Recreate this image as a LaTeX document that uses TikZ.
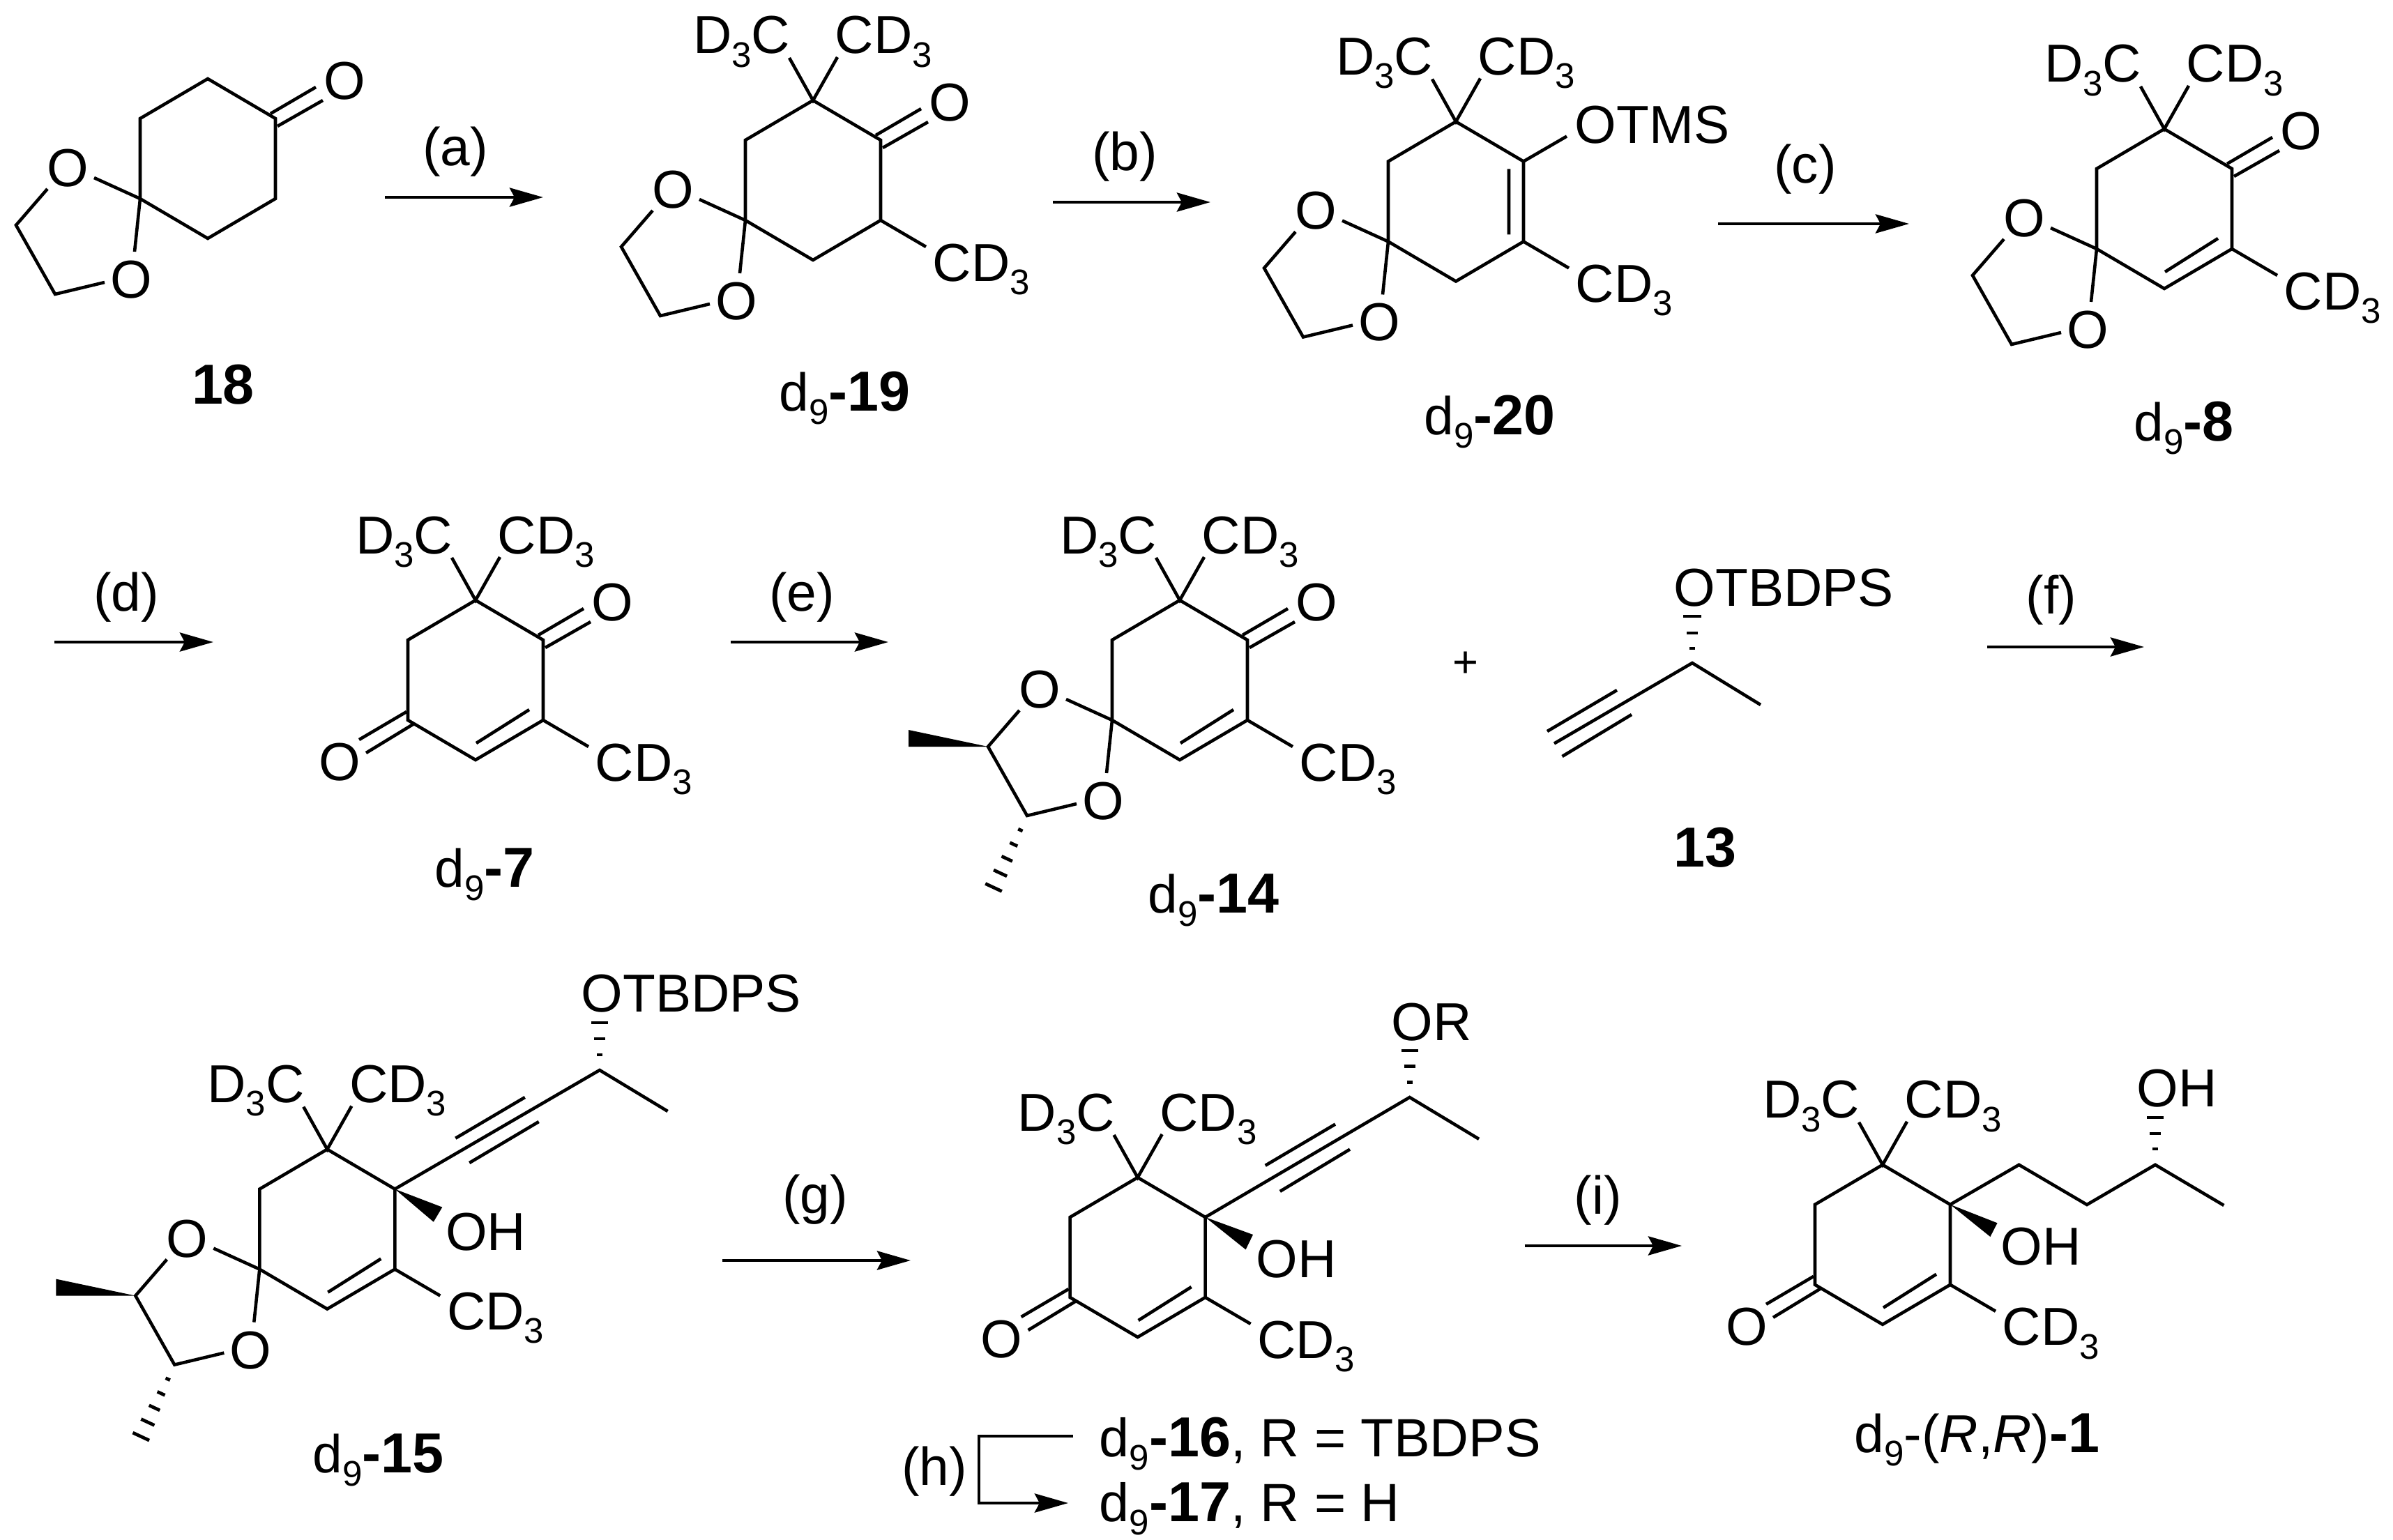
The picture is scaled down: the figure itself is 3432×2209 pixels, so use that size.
\documentclass[tikz,border=0pt]{standalone}
\usepackage{fontspec}
\setmainfont{Liberation Sans}
\usetikzlibrary{calc,arrows.meta}
\newcommand\chemf{\fontsize{21.8}{24}\selectfont}
\newcommand\sbs[1]{\raisebox{-5.5pt}{\fontsize{14.5}{14.5}\selectfont #1}}
\newcommand\bnum[1]{{\fontsize{23}{24}\selectfont\bfseries #1}}
\newcommand\Rel[3]{\coordinate (#1) at ($(#2-T)+#3$);}
\newcommand\Ring[3]{%
  \coordinate (#1-T) at (#2,#3);
  \Rel{#1-UL}{#1}{(-97,57)}\Rel{#1-LL}{#1}{(-97,172)}\Rel{#1-B}{#1}{(0,229)}%
  \Rel{#1-LR}{#1}{(97,172)}\Rel{#1-UR}{#1}{(97,57)}%
  \draw[bond] (#1-T)--(#1-UR)--(#1-LR)--(#1-B)--(#1-LL)--(#1-UL)--cycle;}
\newcommand\Gem[1]{%
  \Rel{#1-ga}{#1}{(-34,-61)}\Rel{#1-gb}{#1}{(35,-62)}%
  \Rel{#1-gl}{#1}{(-32,-67)}\Rel{#1-gr}{#1}{(31,-67)}%
  \draw[bond] (#1-ga)--(#1-T)--(#1-gb);
  \node[lab,anchor=base east] (#1-dc) at (#1-gl) {D\sbs{3}C};
  \node[lab,anchor=base west] (#1-cd) at (#1-gr) {CD\sbs{3}};}
\newcommand\MeCD[1]{%
  \Rel{#1-me}{#1}{(162,210)}\Rel{#1-mt}{#1}{(171,259)}%
  \draw[bond] (#1-LR)--(#1-me);
  \node[lab,anchor=base west] (#1-mc) at (#1-mt) {CD\sbs{3}};}
\newcommand\InnerCC[1]{%
  \Rel{#1-ia}{#1}{(77,157)}\Rel{#1-ib}{#1}{(1,205)}%
  \draw[bond] (#1-ia)--(#1-ib);}
\newcommand\KetoUR[1]{%
  \Rel{#1-oc}{#1}{(196,3)}\Rel{#1-k1}{#1}{(90,50)}\Rel{#1-k2}{#1}{(155,12)}%
  \Rel{#1-k3}{#1}{(100,68)}\Rel{#1-k4}{#1}{(165,31)}%
  \node[lab] (#1-O) at (#1-oc) {O};
  \draw[bond] (#1-k1)--(#1-k2) (#1-k3)--(#1-k4);}
\newcommand\KetoLL[1]{%
  \Rel{#1-pc}{#1}{(-195,232)}\Rel{#1-l1}{#1}{(-99,160)}\Rel{#1-l2}{#1}{(-167,200)}%
  \Rel{#1-l3}{#1}{(-88,177)}\Rel{#1-l4}{#1}{(-157,219)}%
  \node[lab] (#1-OL) at (#1-pc) {O};
  \draw[bond] (#1-l1)--(#1-l2) (#1-l3)--(#1-l4);}
\newcommand\Ketal[1]{%
  \Rel{#1-o1}{#1}{(-201,128)}\Rel{#1-o2}{#1}{(-110,288)}%
  \Rel{#1-q1}{#1}{(-163,142)}\Rel{#1-q2}{#1}{(-105,248)}%
  \Rel{#1-r1}{#1}{(-230,158)}\Rel{#1-Ca}{#1}{(-275,210)}%
  \Rel{#1-Cb}{#1}{(-219,309)}\Rel{#1-r2}{#1}{(-148,292)}%
  \node[lab] (#1-O1) at (#1-o1) {O};
  \node[lab] (#1-O2) at (#1-o2) {O};
  \draw[bond] (#1-LL)--(#1-q1) (#1-LL)--(#1-q2);
  \draw[bond] (#1-r1)--(#1-Ca)--(#1-Cb)--(#1-r2);}
\newcommand\Chiral[1]{%
  \Rel{#1-w1}{#1}{(-389,186)}\Rel{#1-w2}{#1}{(-389,210)}\Rel{#1-hh}{#1}{(-267,412)}%
  \fill (#1-Ca)--(#1-w1)--(#1-w2)--cycle;
  \foreach \t/\w in {.2/.035,.4/.06,.6/.085,.8/.105,1/.13}
    \draw[hash] ($(#1-Cb)!\t!(#1-hh)!\w cm!90:(#1-Cb)$)--($(#1-Cb)!\t!(#1-hh)!-\w cm!90:(#1-Cb)$);}
% stereo hash pointing straight up: x, then (half width, y) three times
\newcommand\HashUp[7]{%
  \draw[hash] (#1-#2,#3)--(#1+#2,#3);
  \draw[hash] (#1-#4,#5)--(#1+#4,#5);
  \draw[hash] (#1-#6,#7)--(#1+#6,#7);}
\newcommand\Rxn[7]{%
  \coordinate (#1-s) at (#2,#4);\coordinate (#1-e) at (#3,#4);
  \draw[rxn] (#1-s)--(#1-e);
  \node[lab,anchor=base] (#1-l) at (#6,#7) {#5};}
\tikzset{
  bond/.style={line width=1.3pt,line join=miter,line cap=butt},
  hash/.style={line width=1.35pt},
  rxn/.style={line width=1.4pt,-{Stealth[length=.48cm,width=.27cm,inset=.07cm]}},
  lab/.style={inner sep=0pt,font=\chemf},
}
\begin{document}
\begin{tikzpicture}[x=.01cm,y=-.01cm]
\useasboundingbox (0,0) rectangle (3432,2209);
\fill[white] (0,0) rectangle (3432,2209);
% 18
\Ring{mA}{298}{113}\KetoUR{mA}\Ketal{mA}
\node[lab,anchor=base] (mA-n) at (320,579) {\bnum{18}};
% 19
\Ring{mB}{1166}{144}\KetoUR{mB}\Ketal{mB}\Gem{mB}\MeCD{mB}
\node[lab,anchor=base west] (mB-n) at (1117,589) {d\sbs{9}\bnum{-19}};
% 20
\Ring{mC}{2088}{174.5}\Ketal{mC}\Gem{mC}\MeCD{mC}
\Rel{mC-i1}{mC}{(76,68)}\Rel{mC-i2}{mC}{(76,162)}\Rel{mC-ot}{mC}{(159,21)}\Rel{mC-tt}{mC}{(170,31.5)}
\draw[bond] (mC-i1)--(mC-i2) (mC-UR)--(mC-ot);
\node[lab,anchor=base west] (mC-tms) at (mC-tt) {OTMS};
\node[lab,anchor=base west] (mC-n) at (2042,623) {d\sbs{9}\bnum{-20}};
% 8
\Ring{mD}{3104}{185}\KetoUR{mD}\Ketal{mD}\Gem{mD}\MeCD{mD}\InnerCC{mD}
\node[lab,anchor=base west] (mD-n) at (3060,632) {d\sbs{9}\bnum{-8}};
% 7
\Ring{mE}{682}{861}\KetoUR{mE}\KetoLL{mE}\Gem{mE}\MeCD{mE}\InnerCC{mE}
\node[lab,anchor=base west] (mE-n) at (623,1272.5) {d\sbs{9}\bnum{-7}};
% 14
\Ring{mF}{1692}{861}\KetoUR{mF}\Ketal{mF}\Chiral{mF}\Gem{mF}\MeCD{mF}\InnerCC{mF}
\node[lab,anchor=base west] (mF-n) at (1646,1309) {d\sbs{9}\bnum{-14}};
% plus
\node[lab,font=\fontsize{18}{20}\selectfont] (plus) at (2101.7,953) {+};
% 13
\coordinate (mG-c) at (2427,951);\coordinate (mG-m) at (2525,1011);\coordinate (mG-y) at (2229,1066.5);
\coordinate (mG-a1) at (2319,990);\coordinate (mG-a2) at (2219,1049);
\coordinate (mG-a3) at (2340,1025);\coordinate (mG-a4) at (2240.5,1085);
\draw[bond] (mG-y)--(mG-c)--(mG-m);
\draw[bond] (mG-a1)--(mG-a2) (mG-a3)--(mG-a4);
\HashUp{2427}{4}{930}{8}{908}{13}{884}
\node[lab,anchor=base west] (mG-o) at (2400,869) {OTBDPS};
\node[lab,anchor=base] (mG-n) at (2445,1243) {\bnum{13}};
% 15
\Ring{mH}{469.3}{1648.6}\Ketal{mH}\Chiral{mH}\Gem{mH}\MeCD{mH}\InnerCC{mH}
\coordinate (mH-c) at (860,1535);\coordinate (mH-m) at (957.6,1594);
\coordinate (mH-a1) at (653.3,1632.7);\coordinate (mH-a2) at (752.8,1574);
\coordinate (mH-a3) at (673.2,1668);\coordinate (mH-a4) at (772.7,1609);
\coordinate (mH-w1) at (634.3,1731.6);\coordinate (mH-w2) at (621.8,1752.7);
\draw[bond] (mH-UR)--(mH-c)--(mH-m);
\draw[bond] (mH-a1)--(mH-a2) (mH-a3)--(mH-a4);
\fill (mH-UR)--(mH-w1)--(mH-w2)--cycle;
\HashUp{860}{4}{1513}{8}{1490}{12}{1467}
\node[lab,anchor=base west] (mH-o) at (833,1451.4) {OTBDPS};
\node[lab,anchor=base west] (mH-oh) at (638.4,1793.4) {OH};
\node[lab,anchor=base west] (mH-n) at (447.7,2112) {d\sbs{9}\bnum{-15}};
% 16/17
\Ring{mJ}{1631.6}{1689}\KetoLL{mJ}\Gem{mJ}\MeCD{mJ}\InnerCC{mJ}
\coordinate (mJ-c) at (2021.7,1574);\coordinate (mJ-m) at (2121,1633.8);
\coordinate (mJ-a1) at (1814.7,1671.8);\coordinate (mJ-a2) at (1915,1612.6);
\coordinate (mJ-a3) at (1835.8,1708.9);\coordinate (mJ-a4) at (1936,1648.6);
\coordinate (mJ-w1) at (1797,1771);\coordinate (mJ-w2) at (1786.6,1792.4);
\draw[bond] (mJ-UR)--(mJ-c)--(mJ-m);
\draw[bond] (mJ-a1)--(mJ-a2) (mJ-a3)--(mJ-a4);
\fill (mJ-UR)--(mJ-w1)--(mJ-w2)--cycle;
\HashUp{2021.7}{4}{1552.4}{8}{1529.6}{12}{1507}
\node[lab,anchor=base west] (mJ-o) at (1995,1492) {OR};
\node[lab,anchor=base west] (mJ-oh) at (1800.7,1832) {OH};
\node[lab,anchor=base west,font=\fontsize{22}{24}\selectfont] (mJ-n) at (1576,2089.5) {d\sbs{9}\bnum{-16}, R = TBDPS};
\node[lab,anchor=base west,font=\fontsize{22}{24}\selectfont] (mJ-n2) at (1576,2182.6) {d\sbs{9}\bnum{-17}, R = H};
% 1
\Ring{mK}{2700}{1670.8}\KetoLL{mK}\Gem{mK}\MeCD{mK}\InnerCC{mK}
\coordinate (mK-c1) at (2895.6,1670.8);\coordinate (mK-c2) at (2993,1728);
\coordinate (mK-c3) at (3091,1670.8);\coordinate (mK-c4) at (3189.4,1729);
\coordinate (mK-w1) at (2864.5,1754.3);\coordinate (mK-w2) at (2854.4,1774);
\draw[bond] (mK-UR)--(mK-c1)--(mK-c2)--(mK-c3)--(mK-c4);
\fill (mK-UR)--(mK-w1)--(mK-w2)--cycle;
\HashUp{3091}{4}{1648}{8}{1626}{12}{1603}
\node[lab,anchor=base west] (mK-o) at (3063.8,1587) {OH};
\node[lab,anchor=base west] (mK-oh) at (2869,1814.6) {OH};
\node[lab,anchor=base west] (mK-n) at (2659,2083) {d\sbs{9}-(\textit{R},\textit{R})\bnum{-1}};
% arrows
\Rxn{ra}{552}{779}{283}{(a)}{653}{238}
\Rxn{rb}{1510}{1736}{290}{(b)}{1613}{245}
\Rxn{rc}{2464}{2738}{321}{(c)}{2589}{263}
\Rxn{rd}{78}{306}{921}{(d)}{181}{876}
\Rxn{re}{1047.5}{1274}{921}{(e)}{1150}{876}
\Rxn{rf}{2850}{3075}{928}{(f)}{2942}{880}
\Rxn{rg}{1036}{1306}{1808}{(g)}{1169}{1740}
\Rxn{ri}{2186.5}{2412}{1787}{(i)}{2292}{1741}
% hooked arrow
\coordinate (h1) at (1539,2060);\coordinate (h2) at (1404,2060);
\coordinate (h3) at (1404,2156);\coordinate (h4) at (1532,2156);
\draw[rxn,line join=miter] (h1)--(h2)--(h3)--(h4);
\node[lab,anchor=base] (h-l) at (1340,2130) {(h)};
\end{tikzpicture}
\end{document}
